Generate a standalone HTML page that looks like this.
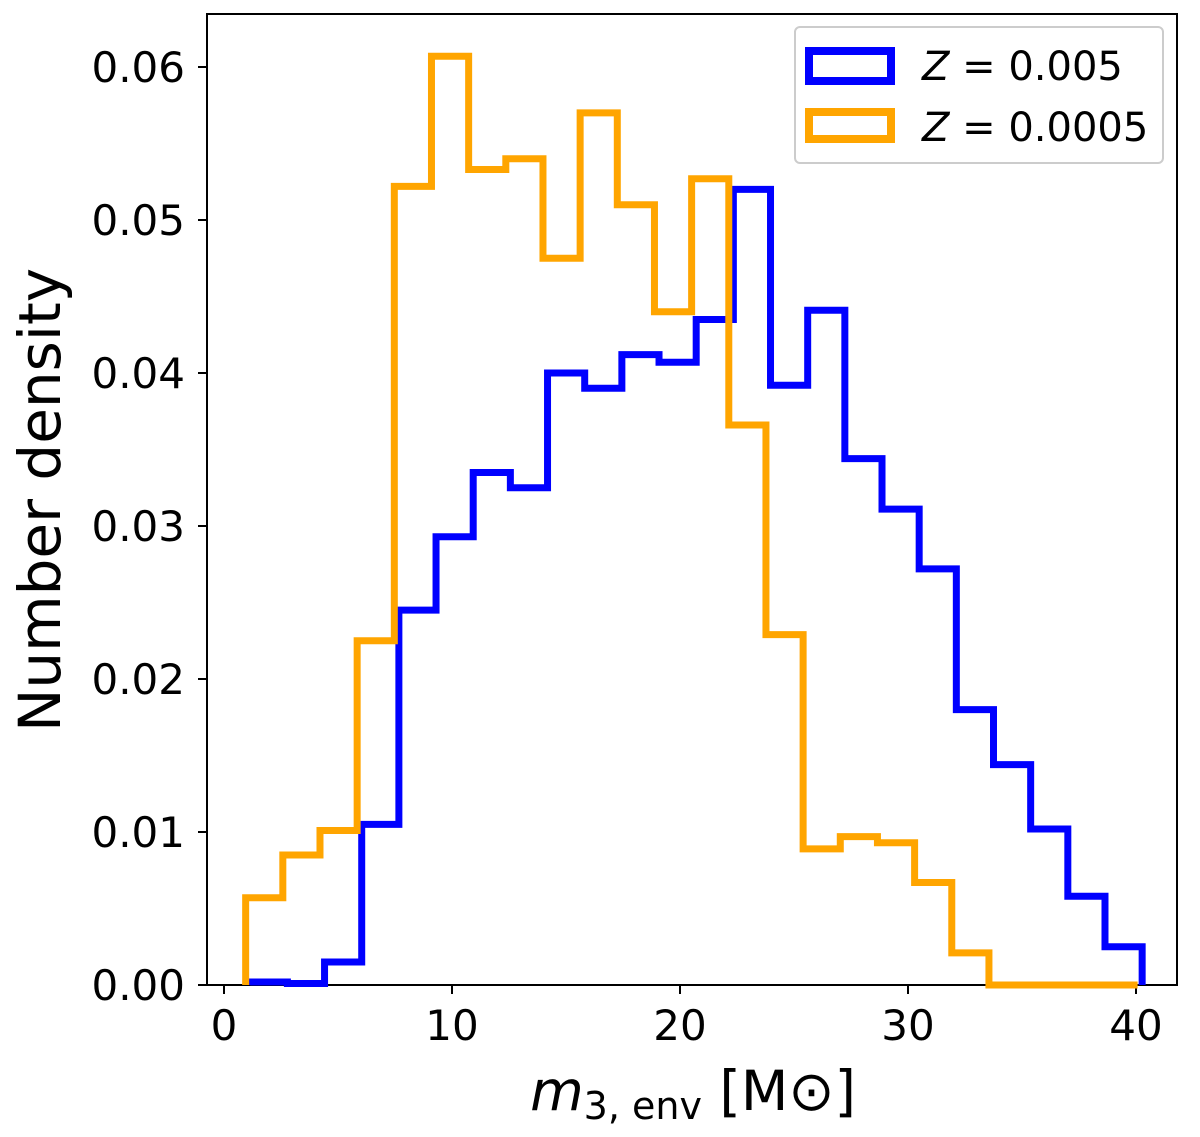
<!DOCTYPE html>
<html><head><meta charset="utf-8"><style>
body{margin:0;background:#fff;}
svg text{font-family:"DejaVu Sans","Liberation Sans",sans-serif;fill:#000;}
</style></head><body>
<svg id="chart" width="1200" height="1132" viewBox="0 0 1200 1132">
<rect x="207" y="14" width="970" height="971" fill="#fff" stroke="#000" stroke-width="2"/>
<g id="ticks"></g>
<g id="series"></g>
<text x="60" y="500" font-size="58" text-anchor="middle" transform="rotate(-90 60 500)">Number density</text>
<text x="693" y="1110" font-size="55" text-anchor="middle"><tspan font-style="italic">m</tspan><tspan font-size="38" dy="9">3, env</tspan><tspan dy="-9"> [M</tspan><tspan>⊙</tspan><tspan>]</tspan></text>
<g>
<rect x="795" y="27" width="368" height="136" rx="5" fill="#fff" stroke="#ccc" stroke-width="2"/>
<rect x="809" y="51" width="82" height="30" fill="none" stroke="#0000ff" stroke-width="8"/>
<text x="922" y="80" font-size="40"><tspan font-style="italic">Z</tspan> = 0.005</text>
<rect x="809" y="112" width="82" height="27" fill="none" stroke="#ffa500" stroke-width="8"/>
<text x="922" y="141" font-size="40"><tspan font-style="italic">Z</tspan> = 0.0005</text>
</g>
</svg>
<script>
const xTicks=[0,10,20,30,40];
const yTicks=[0,0.01,0.02,0.03,0.04,0.05,0.06];
const yTickLabels=["0.00","0.01","0.02","0.03","0.04","0.05","0.06"];
const binWidth=1.63;
const blueStart=1.15;
const orangeStart=0.95;
const blueValues=[0.0002,0.0001,0.0015,0.0105,0.0245,0.0293,0.0335,0.0325,0.0400,0.0390,0.0412,0.0407,0.0435,0.0520,0.0392,0.0441,0.0344,0.0311,0.0272,0.0180,0.0144,0.0102,0.0058,0.0025];
const orangeValues=[0.0057,0.0085,0.0101,0.0225,0.0522,0.0607,0.0533,0.0540,0.0475,0.0570,0.0510,0.0440,0.0527,0.0366,0.0229,0.0089,0.0097,0.0093,0.0067,0.0021,0,0,0,0];
const NS="http://www.w3.org/2000/svg";
const X=v=>224+v*22.8;
const Y=v=>985-v*15300;
const tg=document.getElementById('ticks');
xTicks.forEach(t=>{
 const l=document.createElementNS(NS,'line');
 l.setAttribute('x1',X(t));l.setAttribute('x2',X(t));l.setAttribute('y1',985);l.setAttribute('y2',994);l.setAttribute('stroke','#000');l.setAttribute('stroke-width',2);
 
 
 tg.appendChild(l);
 const s=document.createElementNS(NS,'text');
 s.setAttribute('x',X(t));s.setAttribute('y',1040);s.setAttribute('font-size',42);s.setAttribute('text-anchor','middle');s.textContent=t;
 
 
 tg.appendChild(s);
});
yTicks.forEach((t,i)=>{
 const l=document.createElementNS(NS,'line');
 l.setAttribute('x1',198);l.setAttribute('x2',207);l.setAttribute('y1',Y(t));l.setAttribute('y2',Y(t));l.setAttribute('stroke','#000');l.setAttribute('stroke-width',2);
 
 
 tg.appendChild(l);
 const s=document.createElementNS(NS,'text');
 s.setAttribute('x',185);s.setAttribute('y',Y(t)+15);s.setAttribute('font-size',42);s.setAttribute('text-anchor','end');s.textContent=yTickLabels[i];
 
 
 tg.appendChild(s);
});
function step(vals,start,color,name){
 let d='M'+X(start)+','+Y(0);
 vals.forEach((v,i)=>{const x0=X(start+i*binWidth),x1=X(start+(i+1)*binWidth);d+=' L'+x0+','+Y(v)+' L'+x1+','+Y(v);});
 d+=' L'+X(start+vals.length*binWidth)+','+Y(0);
 const p=document.createElementNS(NS,'path');
 p.setAttribute('d',d);p.setAttribute('fill','none');p.setAttribute('stroke',color);p.setAttribute('stroke-width',7);p.setAttribute('stroke-linejoin','miter');
 
 
 document.getElementById('series').appendChild(p);
}
step(blueValues,blueStart,'#0000ff','histogram-z0005');
step(orangeValues,orangeStart,'#ffa500','histogram-z00005');
</script>
</body></html>
